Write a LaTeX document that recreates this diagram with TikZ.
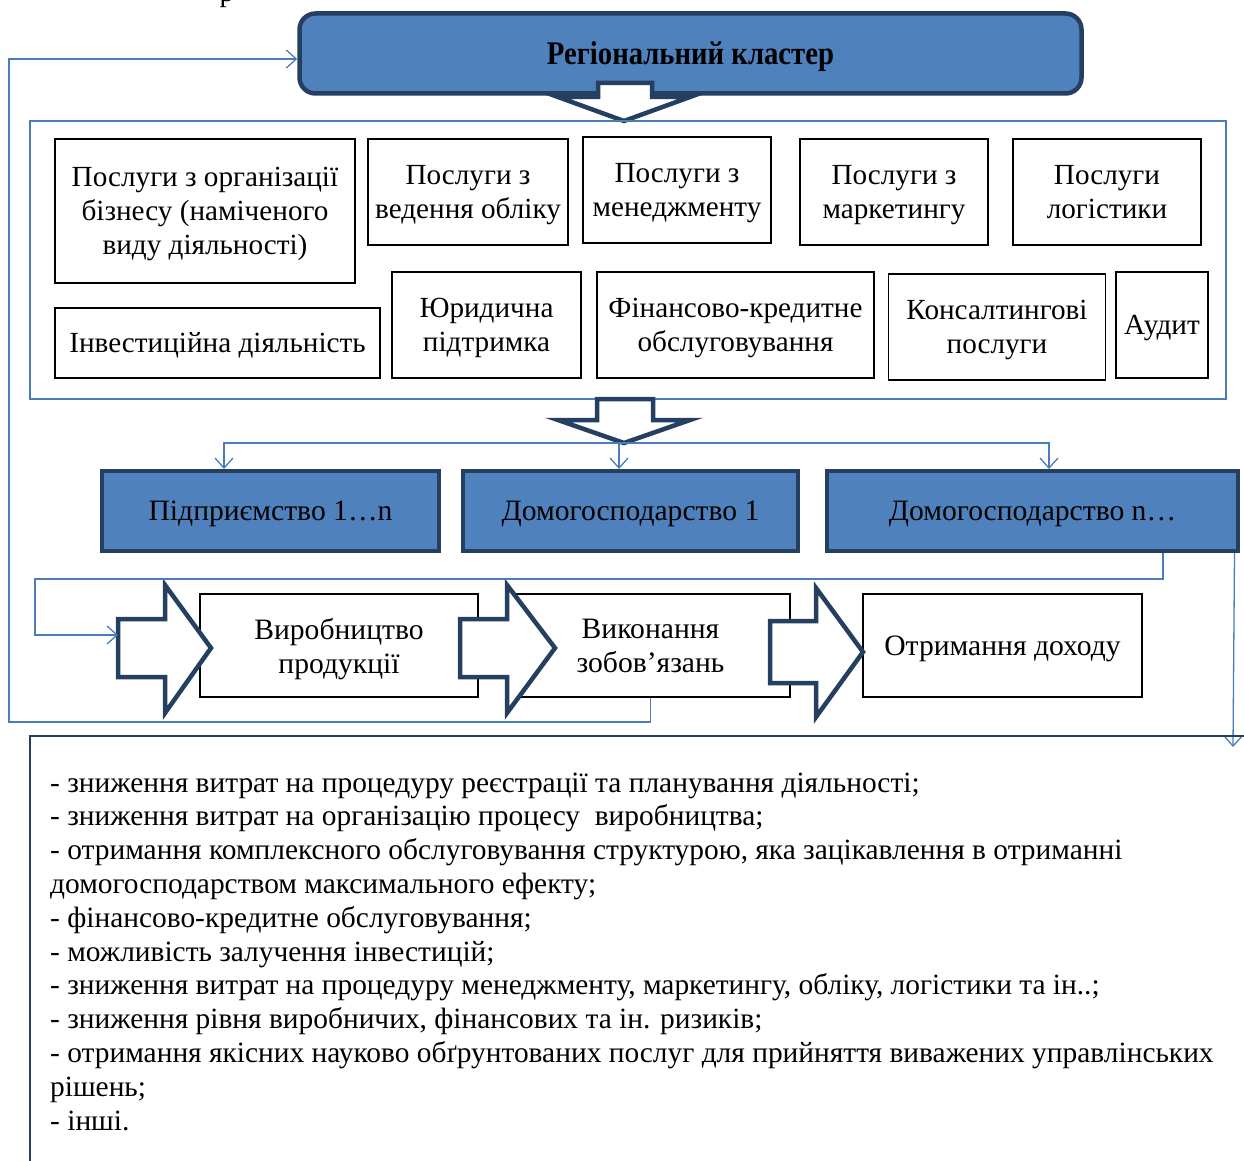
\documentclass[tikz,border=0pt]{standalone}
\usepackage{fontspec}
\setmainfont{Liberation Serif}
\newfontfamily\titlefont[FakeStretch=0.87]{Liberation Serif}
\usetikzlibrary{arrows.meta}
\definecolor{clusterblue}{HTML}{4F81BD}
\definecolor{clusternavy}{HTML}{243F60}
\definecolor{linkblue}{HTML}{4A7EBB}
\begin{document}
\begin{tikzpicture}[x=1pt,y=-1pt,
  svcbox/.style={draw=black,line width=1.8pt,align=center,inner sep=0pt,text depth=-2pt,font=\fontsize{29.2}{34}\selectfont},
  unitbox/.style={fill=clusterblue,draw=clusternavy,line width=4pt,inner sep=0pt,text depth=-2pt,font=\fontsize{29.6}{34}\selectfont},
  stagebox/.style={draw=black,line width=2.6pt,fill=white,align=center,inner sep=0pt,text depth=-2pt,font=\fontsize{29.6}{34}\selectfont},
  blockarrow/.style={draw=clusternavy,line width=4.5pt,fill=white,line join=miter},
  link/.style={draw=linkblue,line width=1.3pt},
  tip/.style={-{Straight Barb[length=10pt,width=18pt]}}]
\useasboundingbox (0,0) rectangle (1244,1161);
\node[anchor=base west,font=\fontsize{29}{30}\selectfont] (caption) at (216,1.5) {р};
% cluster
\node[fill=clusterblue,draw=clusternavy,line width=4.5pt,rounded corners=16pt,text depth=-2pt,
  minimum width=782,minimum height=80,font=\titlefont\bfseries\fontsize{33}{36}\selectfont]
  (cluster) at (690.5,53.5) {Регіональний кластер};
\draw[blockarrow] (598,83)--(652,83)--(652,97)--(690,97)--(624,121)--(558,97)--(598,97)--cycle;
% services
\node[draw=linkblue,line width=1.3pt,minimum width=1196,minimum height=278,inner sep=0pt] (services) at (628,260) {};
\node[svcbox,minimum width=300,minimum height=144] (s1) at (205,211) {Послуги з організації\\бізнесу (наміченого\\виду діяльності)};
\node[svcbox,minimum width=200,minimum height=106] (s2) at (468,192) {Послуги з\\ведення обліку};
\node[svcbox,minimum width=188,minimum height=106] (s3) at (677,190) {Послуги з\\менеджменту};
\node[svcbox,minimum width=188,minimum height=106] (s4) at (894,192) {Послуги з\\маркетингу};
\node[svcbox,minimum width=188,minimum height=106] (s5) at (1107,192) {Послуги\\логістики};
\node[svcbox,minimum width=325,minimum height=70] (s6) at (217.5,343) {Інвестиційна діяльність};
\node[svcbox,minimum width=189,minimum height=106] (s7) at (486.5,325) {Юридична\\підтримка};
\node[svcbox,minimum width=277,minimum height=106] (s8) at (735.5,325) {Фінансово-кредитне\\обслуговування};
\node[svcbox,minimum width=217,minimum height=106] (s9) at (997,327) {Консалтингові\\послуги};
\node[svcbox,minimum width=92,minimum height=106] (s10) at (1162,325) {Аудит};
\draw[blockarrow] (597,399)--(653,399)--(653,420)--(690,420)--(624,443)--(558,420)--(597,420)--cycle;
\coordinate (split) at (624,443);
% units
\node[unitbox,minimum width=337,minimum height=80] (u1) at (270.5,511) {Підприємство 1…n};
\node[unitbox,minimum width=335,minimum height=80] (u2) at (630.5,511) {Домогосподарство 1};
\node[unitbox,minimum width=411,minimum height=80] (u3) at (1032.5,511) {Домогосподарство n…};
\draw[link,tip] (split) -| ([xshift=-46.5pt]u1.north);
\draw[link,tip] (split) -| ([xshift=-11.5pt]u2.north);
\draw[link,tip] (split) -| ([xshift=16.5pt]u3.north);
% stages
\node[stagebox,minimum width=278,minimum height=103] (prod) at (339,645.5) {Виробництво\\продукції};
\node[stagebox,minimum width=279,minimum height=103] (oblig) at (650.5,645.5) {Виконання\\зобов’язань};
\node[stagebox,minimum width=279,minimum height=103] (income) at (1002.5,645.5) {Отримання доходу};
\draw[blockarrow] (118,619)--(165,619)--(165,585)--(211,648)--(165,713)--(165,677)--(118,677)--cycle;
\draw[blockarrow] (460,619)--(507,619)--(507,585)--(555,648)--(507,713)--(507,677)--(460,677)--cycle;
\draw[blockarrow] (770,621)--(816,621)--(816,588)--(863,652)--(816,717)--(816,683)--(770,683)--cycle;
\coordinate (intoA) at (118,635);
\coordinate (intoB) at (1233,747);
% feedback links
\draw[link,tip] ([xshift=130.5pt]u3.south) |- (35,579) |- (intoA);
\draw[link,tip] ([xshift=-5.5pt]u3.south east) -- (intoB);
\draw[link,tip] (oblig.south) |- (9,722) |- ([yshift=-5.5pt]cluster.west);
% benefits
\draw[draw=clusternavy,line width=2.4pt] (1250,736) -- (30,736) -- (30,1170);
\node[anchor=base west,align=left,inner sep=0pt,font=\fontsize{29.4}{33.8}\selectfont] (benefits) at (50,1130)
{- зниження витрат на процедуру реєстрації та планування діяльності;\\
- зниження витрат на організацію процесу\ \ виробництва;\\
- отримання комплексного обслуговування структурою, яка зацікавлення в отриманні\\
домогосподарством максимального ефекту;\\
- фінансово-кредитне обслуговування;\\
- можливість залучення інвестицій;\\
- зниження витрат на процедуру менеджменту, маркетингу, обліку, логістики та ін..;\\
- зниження рівня виробничих, фінансових та ін. ризиків;\\
- отримання якісних науково обґрунтованих послуг для прийняття виважених управлінських\\
рішень;\\
- інші.};
\end{tikzpicture}
\end{document}
